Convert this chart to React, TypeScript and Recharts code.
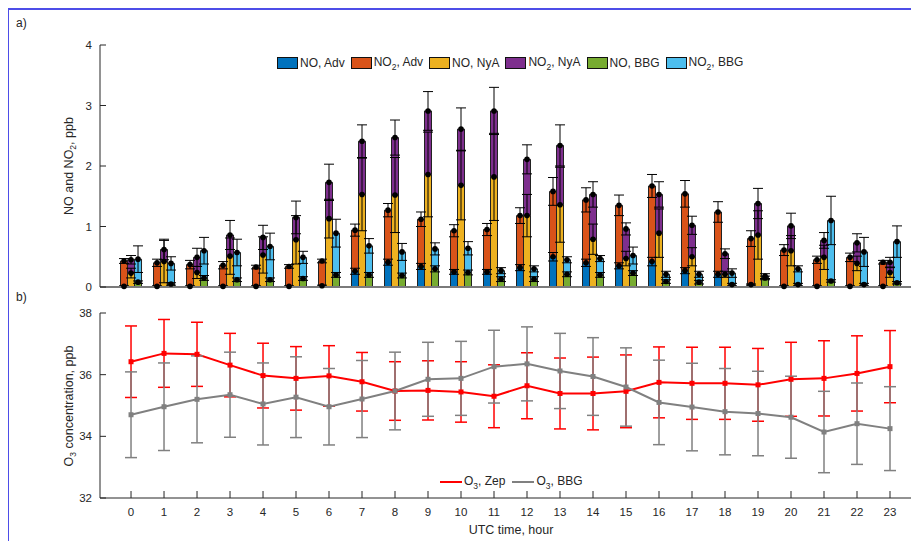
import React from 'react';
import {
  BarChart, Bar, XAxis, YAxis, ErrorBar, LabelList, ReferenceLine,
  LineChart, Line, Label,
} from 'recharts';

const FONT = '"Liberation Sans", Arial, Helvetica, sans-serif';
const TXT = '#262626';

const hours = [0, 1, 2, 3, 4, 5, 6, 7, 8, 9, 10, 11, 12, 13, 14, 15, 16, 17, 18, 19, 20, 21, 22, 23];

const noAdv = [0.01, 0.01, 0.01, 0.01, 0.01, 0.01, 0.02, 0.26, 0.41, 0.34, 0.25, 0.25, 0.32, 0.5, 0.4, 0.35, 0.42, 0.27, 0.21, 0.04, 0.01, 0.01, 0.01, 0.01];
const noAdvErr = [0.01, 0.01, 0.01, 0.01, 0.01, 0.01, 0.01, 0.05, 0.05, 0.05, 0.04, 0.04, 0.05, 0.07, 0.06, 0.05, 0.07, 0.05, 0.05, 0.01, 0.01, 0.01, 0.01, 0.01];
const no2Adv = [0.43, 0.4, 0.37, 0.36, 0.33, 0.34, 0.43, 0.94, 1.27, 1.12, 0.93, 0.95, 1.18, 1.58, 1.44, 1.35, 1.67, 1.54, 1.24, 0.8, 0.61, 0.45, 0.49, 0.41];
const no2AdvErr = [0.04, 0.06, 0.07, 0.06, 0.03, 0.03, 0.03, 0.1, 0.11, 0.12, 0.1, 0.1, 0.13, 0.23, 0.2, 0.17, 0.19, 0.22, 0.17, 0.13, 0.09, 0.06, 0.07, 0.03];

const noNyA = [0.23, 0.42, 0.24, 0.51, 0.53, 0.78, 1.13, 1.53, 1.52, 1.86, 1.68, 1.82, 1.18, 1.36, 0.79, 0.47, 0.89, 0.5, 0.21, 0.86, 0.6, 0.49, 0.39, 0.24];
const noNyAErr = [0.08, 0.35, 0.1, 0.3, 0.3, 0.4, 0.32, 0.6, 0.62, 0.7, 0.57, 0.72, 0.35, 0.62, 0.25, 0.12, 0.4, 0.15, 0.05, 0.4, 0.25, 0.2, 0.12, 0.08];
const no2NyA = [0.45, 0.62, 0.49, 0.86, 0.82, 1.15, 1.73, 2.41, 2.47, 2.91, 2.61, 2.91, 2.11, 2.34, 1.53, 0.96, 1.53, 1.02, 0.55, 1.38, 1.01, 0.77, 0.73, 0.41];
const no2NyAErr = [0.07, 0.17, 0.15, 0.24, 0.2, 0.27, 0.3, 0.27, 0.29, 0.32, 0.35, 0.39, 0.24, 0.34, 0.21, 0.1, 0.21, 0.15, 0.08, 0.25, 0.21, 0.13, 0.15, 0.08];

const noBBG = [0.08, 0.05, 0.15, 0.12, 0.12, 0.14, 0.2, 0.2, 0.19, 0.3, 0.24, 0.13, 0.13, 0.21, 0.2, 0.23, 0.09, 0.08, 0.04, 0.15, 0.04, 0.1, 0.04, 0.07];
const noBBGErr = [0.02, 0.02, 0.04, 0.03, 0.03, 0.03, 0.04, 0.04, 0.04, 0.05, 0.04, 0.04, 0.04, 0.04, 0.04, 0.04, 0.03, 0.03, 0.02, 0.03, 0.02, 0.02, 0.02, 0.02];
const no2BBG = [0.46, 0.39, 0.6, 0.57, 0.67, 0.49, 0.89, 0.68, 0.58, 0.63, 0.64, 0.27, 0.3, 0.45, 0.47, 0.52, 0.21, 0.21, 0.23, 0.18, 0.3, 1.1, 0.58, 0.75];
const no2BBGErr = [0.22, 0.11, 0.22, 0.22, 0.22, 0.1, 0.23, 0.12, 0.14, 0.1, 0.11, 0.05, 0.05, 0.05, 0.05, 0.14, 0.05, 0.05, 0.07, 0.04, 0.05, 0.4, 0.24, 0.26];

const o3Zep = [36.42, 36.69, 36.66, 36.31, 35.97, 35.88, 35.96, 35.77, 35.47, 35.49, 35.44, 35.3, 35.64, 35.39, 35.39, 35.46, 35.75, 35.72, 35.72, 35.67, 35.85, 35.88, 36.04, 36.26];
const o3ZepErr = [1.16, 1.1, 1.04, 1.03, 1.05, 1.03, 0.98, 0.95, 0.95, 0.96, 0.98, 1.02, 1.07, 1.15, 1.18, 1.18, 1.15, 1.17, 1.17, 1.18, 1.2, 1.22, 1.22, 1.17];
const o3BBG = [34.7, 34.96, 35.2, 35.35, 35.05, 35.27, 34.96, 35.21, 35.47, 35.85, 35.88, 36.26, 36.35, 36.12, 35.94, 35.6, 35.1, 34.95, 34.8, 34.74, 34.62, 34.14, 34.41, 34.25];
const o3BBGErr = [1.39, 1.42, 1.41, 1.38, 1.33, 1.31, 1.24, 1.25, 1.26, 1.2, 1.2, 1.18, 1.2, 1.22, 1.26, 1.27, 1.37, 1.42, 1.4, 1.37, 1.33, 1.32, 1.32, 1.36];

const topTicks = [0, 1, 2, 3, 4];
const bottomTicks = [32, 34, 36, 38];

const BLUE = '#0072BD';
const ORANGE = '#D95319';
const YELLOW = '#EDB120';
const PURPLE = '#7E2F8E';
const GREEN = '#77AC30';
const LBLUE = '#4DBEEE';
const RED = '#FF0000';
const GRAY = '#808080';

const barData = hours.map((h, i) => ({
  hour: h,
  noAdv: noAdv[i], noAdvErr: noAdvErr[i],
  no2AdvTop: no2Adv[i] - noAdv[i], no2AdvErr: no2AdvErr[i],
  noNyA: noNyA[i], noNyAErr: noNyAErr[i],
  no2NyATop: no2NyA[i] - noNyA[i], no2NyAErr: no2NyAErr[i],
  noBBG: noBBG[i], noBBGErr: noBBGErr[i],
  no2BBGTop: no2BBG[i] - noBBG[i], no2BBGErr: no2BBGErr[i],
}));

const lineData = hours.map((h, i) => ({
  hour: h,
  o3Zep: o3Zep[i], o3ZepErr: o3ZepErr[i],
  o3BBG: o3BBG[i], o3BBGErr: o3BBGErr[i],
}));

const YTick = (props: any) => {
  const { x, y, payload } = props;
  const ax = x + 8;
  return (
    <g>
      <line x1={ax} x2={ax + 6} y1={y} y2={y} stroke={TXT} strokeWidth={1} />
      <text x={x} y={y} dy={4} textAnchor="end" fontSize={11.5} fill={TXT} fontFamily={FONT}>{payload.value}</text>
    </g>
  );
};

const XTick = (props: any) => {
  const { x, y, payload } = props;
  return (
    <g>
      <line x1={x} x2={x} y1={y} y2={y - 7} stroke={TXT} strokeWidth={1} />
      <text x={x} y={y + 18} textAnchor="middle" fontSize={11.5} fill={TXT} fontFamily={FONT}>{payload.value}</text>
    </g>
  );
};

const TopDot = (props: any) => {
  const vb = props.viewBox || props;
  const x = vb.x ?? props.x;
  const y = vb.y ?? props.y;
  const w = vb.width ?? props.width;
  if (x == null || y == null) return null;
  return <circle cx={x + w / 2} cy={y} r={2.8} fill="#000" />;
};

const Sq = (color: string) => (props: any) => {
  const { cx, cy, index } = props;
  if (cx == null || cy == null) return null;
  return <rect key={`sq-${index}`} x={cx - 2.5} y={cy - 2.5} width={5} height={5} fill={color} />;
};

const TopYLabel = () => (
  <text transform="rotate(-90, 65, 158)" x={65} y={158} textAnchor="middle" fontSize={12.5} fill={TXT} fontFamily={FONT}>
    <tspan>NO and NO</tspan>
    <tspan fontSize={8.5} dy={3}>2</tspan>
    <tspan dy={-3}>, ppb</tspan>
  </text>
);

const BottomYLabel = () => (
  <text transform="rotate(-90, 65, 108)" x={65} y={108} textAnchor="middle" fontSize={12.5} fill={TXT} fontFamily={FONT}>
    <tspan>O</tspan>
    <tspan fontSize={8.5} dy={3}>3</tspan>
    <tspan dy={-3}> concentration, ppb</tspan>
  </text>
);

const XLabel = () => (
  <text x={503} y={236} textAnchor="middle" fontSize={12.5} fill={TXT} fontFamily={FONT}>UTC time, hour</text>
);

const Sub = ({ children }: { children: React.ReactNode }) => (
  <span style={{ fontSize: 8.5, position: 'relative', top: 4 }}>{children}</span>
);

const legendItems: { color: string; label: React.ReactNode }[] = [
  { color: BLUE, label: <>NO, Adv</> },
  { color: ORANGE, label: <>NO<Sub>2</Sub>, Adv</> },
  { color: YELLOW, label: <>NO, NyA</> },
  { color: PURPLE, label: <>NO<Sub>2</Sub>, NyA</> },
  { color: GREEN, label: <>NO, BBG</> },
  { color: LBLUE, label: <>NO<Sub>2</Sub>, BBG</> },
];

export default function App() {
  return (
    <div style={{ position: 'relative', width: 911, height: 533, fontFamily: FONT }}>
      <style>{'html,body{overflow:hidden;}'}</style>
      <div style={{ position: 'absolute', left: -1, top: 0, width: 940, height: 560, borderLeft: '2px solid #4d4de8', borderTop: '2px solid #4d4de8', boxSizing: 'border-box' }} />
      <div style={{ position: 'absolute', left: 8, top: 8, fontSize: 12, color: TXT }}>a)</div>
      <div style={{ position: 'absolute', left: 8, top: 282, fontSize: 12, color: TXT }}>b)</div>

      <div style={{ position: 'absolute', left: 0, top: 0 }}>
        <BarChart width={919} height={300} data={barData} margin={{ top: 37, right: 4, bottom: 21, left: 42 }} barGap={0}>
          <XAxis type="number" dataKey="hour" domain={[-0.94, 24]} ticks={hours} allowDataOverflow hide />
          <YAxis width={50} domain={[0, 4]} ticks={topTicks} tickSize={0} tickLine={false} tickMargin={8}
            axisLine={{ stroke: TXT }} tick={<YTick />} allowDataOverflow>
            <Label content={<TopYLabel />} />
          </YAxis>
          <Bar dataKey="noAdv" stackId="adv" fill={BLUE} stroke="#222" strokeWidth={1} barSize={7} isAnimationActive={false}>
            <ErrorBar dataKey="noAdvErr" width={5} stroke="#000" strokeWidth={1} />
            <LabelList dataKey="noAdv" content={<TopDot />} />
          </Bar>
          <Bar dataKey="no2AdvTop" stackId="adv" fill={ORANGE} stroke="#222" strokeWidth={1} barSize={7} isAnimationActive={false}>
            <ErrorBar dataKey="no2AdvErr" width={5} stroke="#000" strokeWidth={1} />
            <LabelList dataKey="no2AdvTop" content={<TopDot />} />
          </Bar>
          <Bar dataKey="noNyA" stackId="nya" fill={YELLOW} stroke="#222" strokeWidth={1} barSize={7} isAnimationActive={false}>
            <ErrorBar dataKey="noNyAErr" width={5} stroke="#000" strokeWidth={1} />
            <LabelList dataKey="noNyA" content={<TopDot />} />
          </Bar>
          <Bar dataKey="no2NyATop" stackId="nya" fill={PURPLE} stroke="#222" strokeWidth={1} barSize={7} isAnimationActive={false}>
            <ErrorBar dataKey="no2NyAErr" width={5} stroke="#000" strokeWidth={1} />
            <LabelList dataKey="no2NyATop" content={<TopDot />} />
          </Bar>
          <Bar dataKey="noBBG" stackId="bbg" fill={GREEN} stroke="#222" strokeWidth={1} barSize={7} isAnimationActive={false}>
            <ErrorBar dataKey="noBBGErr" width={5} stroke="#000" strokeWidth={1} />
            <LabelList dataKey="noBBG" content={<TopDot />} />
          </Bar>
          <Bar dataKey="no2BBGTop" stackId="bbg" fill={LBLUE} stroke="#222" strokeWidth={1} barSize={7} isAnimationActive={false}>
            <ErrorBar dataKey="no2BBGErr" width={5} stroke="#000" strokeWidth={1} />
            <LabelList dataKey="no2BBGTop" content={<TopDot />} />
          </Bar>
          <ReferenceLine y={0} stroke="#7a7a7a" strokeWidth={2} />
        </BarChart>
      </div>

      <div style={{ position: 'absolute', left: 269, top: 46, display: 'flex', alignItems: 'center', fontSize: 12, color: TXT, whiteSpace: 'nowrap', lineHeight: '16px' }}>
        {legendItems.map((it, i) => (
          <div key={i} style={{ display: 'flex', alignItems: 'center', marginRight: 6 }}>
            <div style={{ width: 19, height: 10, background: it.color, border: '1px solid #111', marginRight: 2 }} />
            <span>{it.label}</span>
          </div>
        ))}
      </div>

      <div style={{ position: 'absolute', left: 0, top: 290 }}>
        <LineChart width={919} height={251} data={lineData} margin={{ top: 15, right: 4, bottom: 21, left: 42 }}>
          <XAxis type="number" dataKey="hour" domain={[-0.94, 24]} ticks={hours} allowDataOverflow height={30}
            tickSize={0} tickLine={false} tickMargin={0} axisLine={{ stroke: TXT }} tick={<XTick />} interval={0}>
            <Label content={<XLabel />} />
          </XAxis>
          <YAxis width={50} domain={[32, 38]} ticks={bottomTicks} tickSize={0} tickLine={false} tickMargin={8}
            axisLine={{ stroke: TXT }} tick={<YTick />} allowDataOverflow>
            <Label content={<BottomYLabel />} />
          </YAxis>
          <Line dataKey="o3Zep" stroke={RED} strokeWidth={2} dot={Sq(RED)} activeDot={false} isAnimationActive={false}>
            <ErrorBar dataKey="o3ZepErr" width={6} stroke={RED} strokeWidth={1.5} />
          </Line>
          <Line dataKey="o3BBG" stroke={GRAY} strokeWidth={2} dot={Sq(GRAY)} activeDot={false} isAnimationActive={false}>
            <ErrorBar dataKey="o3BBGErr" width={6} stroke={GRAY} strokeWidth={1.5} />
          </Line>
        </LineChart>
      </div>

      <div style={{ position: 'absolute', left: 432, top: 465, display: 'flex', alignItems: 'center', fontSize: 12, color: TXT, whiteSpace: 'nowrap', lineHeight: '16px' }}>
        <div style={{ width: 22, height: 2, background: RED, marginRight: 2 }} />
        <span style={{ marginRight: 7 }}>O<Sub>3</Sub>, Zep</span>
        <div style={{ width: 22, height: 2, background: GRAY, marginRight: 2 }} />
        <span>O<Sub>3</Sub>, BBG</span>
      </div>
    </div>
  );
}
